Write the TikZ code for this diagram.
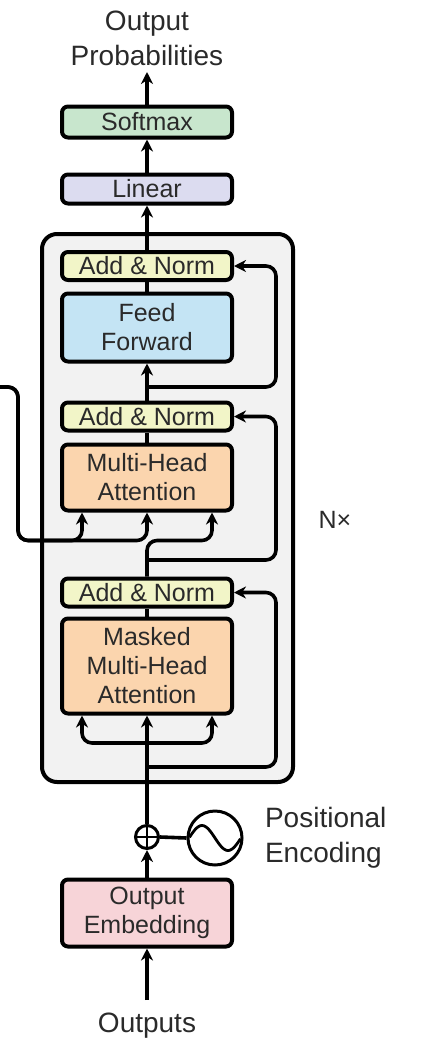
\documentclass[tikz,border=0pt]{standalone}
\usepackage{fontspec}
\setmainfont{Liberation Sans}
\usetikzlibrary{arrows.meta, calc}

\begin{document}
\begin{tikzpicture}[x=0.5pt, y=-0.5pt,
    block/.style={draw=black, line width=2pt, rounded corners=3pt, minimum width=85pt,
        inner sep=0pt, align=center, text=textColour, font=\fontsize{12.5}{14.5}\selectfont},
    addnorm/.style={block, fill=normColour, minimum height=14pt},
    attn/.style={block, fill=attnColour},
    wire/.style={line width=1.8pt, rounded corners=5pt},
    flow/.style={wire, -{Stealth[length=6pt, width=6pt]}},
    label/.style={text=textColour, font=\fontsize{14}{17.5}\selectfont}
]
    % Define colours
    \definecolor{textColour}{HTML}{2A2A2A}
    \definecolor{stackColour}{HTML}{F2F2F2}
    \definecolor{normColour}{HTML}{F2F5C8}
    \definecolor{ffColour}{HTML}{C4E4F4}
    \definecolor{attnColour}{HTML}{FBD5AE}
    \definecolor{linColour}{HTML}{DCDCF0}
    \definecolor{softColour}{HTML}{C8E6CD}
    \definecolor{embColour}{HTML}{F7D4D8}

    \useasboundingbox (0,0) rectangle (430,1050);

  % The repeated decoder layer
  \draw[line width=2pt, fill=stackColour, rounded corners=7.5pt] (42,234) rectangle (293,782);
  \node[label, font=\fontsize{12.5}{15}\selectfont] (nx) at (335,520) {N×};

  % Blocks, top to bottom
  \node[block, fill=softColour, minimum height=15.5pt] (soft) at (147,122) {Softmax};
  \node[block, fill=linColour, minimum height=14.5pt] (lin) at (147,189) {Linear};
  \node[addnorm] (an1) at (147,266) {Add \& Norm};
  \node[block, fill=ffColour, minimum height=34pt] (ff) at (147,327.5) {Feed\\Forward};
  \node[addnorm] (an2) at (147,416.5) {Add \& Norm};
  \node[attn, minimum height=33pt] (mha) at (147,477.5) {Multi-Head\\Attention};
  \node[addnorm] (an3) at (147,592.5) {Add \& Norm};
  \node[attn, minimum height=47.5pt] (mmha) at (147,666) {Masked\\Multi-Head\\Attention};
  \node[block, fill=embColour, minimum height=33.5pt] (emb) at (147,913) {Output\\Embedding};

  % Positional encoding
  \node[circle, draw, line width=1.5pt, minimum size=11.5pt, inner sep=0pt] (plus) at (147,837) {};
  \draw[line width=1.3pt] (plus.north) -- (plus.south) (plus.west) -- (plus.east);
  \node[circle, draw, line width=1.5pt, minimum size=27pt, inner sep=0pt] (pe) at (215,838) {};
  \draw[line width=1.4pt, domain=-25.5:25.5, samples=40, smooth]
    plot ({215+\x}, {838+12.5*sin(\x*180/26)});
  \draw[wire] (plus.east) -- (pe.west);

  % Labels
  \node[label, align=center] (prob) at (147,38) {Output\\Probabilities};
  \node[label, align=left, anchor=west] (posenc) at (258,838) {Positional\\Encoding};
  \node[label] (outs) at (147,1026) {Outputs};

  % Free ends
  \coordinate (probIn) at (147,72);
  \coordinate (outsOut) at (147,1000);
  \coordinate (enc) at (0,387);
  \coordinate (res1) at (147,387);
  \coordinate (res2) at (147,560);
  \coordinate (res3) at (147,767);
  \coordinate (split) at (147,743);

  % Main path
  \draw[flow] (outsOut) -- (emb.south);
  \draw[flow] (emb.north) -- (plus.south);
  \draw[flow] (plus.north) -- (mmha.south);
  \draw[flow] (split) -| ($(mmha.south)+(-65,0)$);
  \draw[flow] (split) -| ($(mmha.south)+(65,0)$);
  \draw[wire] (mmha.north) -- (an3.south);
  \draw[flow] (an3.north) |- ($(mha.south)+(65,28)$) -- ($(mha.south)+(65,0)$);
  \draw[wire] (mha.north) -- (an2.south);
  \draw[flow] (an2.north) -- (ff.south);
  \draw[wire] (ff.north) -- (an1.south);
  \draw[flow] (an1.north) -- (lin.south);
  \draw[flow] (lin.north) -- (soft.south);
  \draw[flow] (soft.north) -- (probIn);

  % Encoder output into the middle attention
  \draw[flow] (enc) -- (18,387) |- ($(mha.south)+(-65,28)$) -- ($(mha.south)+(-65,0)$);
  \draw[flow] (enc) -- (18,387) |- ($(mha.south)+(0,28)$) -- (mha.south);

  % Residual connections
  \draw[flow] (res3) -- (276,767) |- (an3.east);
  \draw[flow] (res2) -- (276,560) |- (an2.east);
  \draw[flow] (res1) -- (276,387) |- (an1.east);

\end{tikzpicture}
\end{document}
